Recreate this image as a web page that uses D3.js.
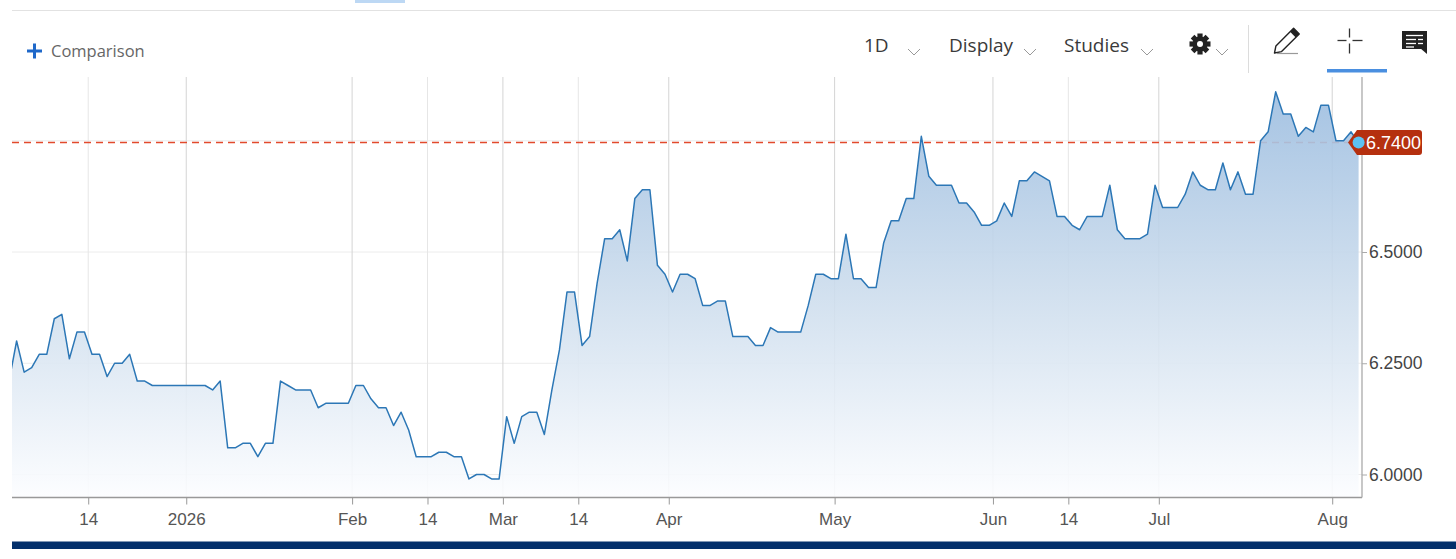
<!DOCTYPE html>
<html><head><meta charset="utf-8">
<script src="https://cdn.jsdelivr.net/npm/d3@7/dist/d3.min.js"></script>
<style>
html,body{margin:0;padding:0;background:#fff;overflow:hidden;}
svg{display:block;}
</style></head><body>
<svg id="chart" width="1456" height="559"></svg>
<script>
// ---- data (one value per weekday, starting Fri 2025-11-28) ----
const startDate = "2025-11-28";
const values = [
  6.21,6.30,6.23,6.24,6.27,6.27,6.35,6.36,6.26,6.32,
  6.32,6.27,6.27,6.22,6.25,6.25,6.27,6.21,6.21,6.20,
  6.20,6.20,6.20,6.20,6.20,6.20,6.20,6.19,6.21,6.06,
  6.06,6.07,6.07,6.04,6.07,6.07,6.21,6.20,6.19,6.19,
  6.19,6.15,6.16,6.16,6.16,6.16,6.20,6.20,6.17,6.15,
  6.15,6.11,6.14,6.10,6.04,6.04,6.04,6.05,6.05,6.04,
  6.04,5.99,6.00,6.00,5.99,5.99,6.13,6.07,6.13,6.14,
  6.14,6.09,6.19,6.28,6.41,6.41,6.29,6.31,6.43,6.53,
  6.53,6.55,6.48,6.62,6.64,6.64,6.47,6.45,6.41,6.45,
  6.45,6.44,6.38,6.38,6.39,6.39,6.31,6.31,6.31,6.29,
  6.29,6.33,6.32,6.32,6.32,6.32,6.38,6.45,6.45,6.44,
  6.44,6.54,6.44,6.44,6.42,6.42,6.52,6.57,6.57,6.62,
  6.62,6.76,6.67,6.65,6.65,6.65,6.61,6.61,6.59,6.56,
  6.56,6.57,6.61,6.58,6.66,6.66,6.68,6.67,6.66,6.58,
  6.58,6.56,6.55,6.58,6.58,6.58,6.65,6.55,6.53,6.53,
  6.53,6.54,6.65,6.60,6.60,6.60,6.63,6.68,6.65,6.64,
  6.64,6.70,6.64,6.68,6.63,6.63,6.75,6.77,6.86,6.81,
  6.81,6.76,6.78,6.77,6.83,6.83,6.75,6.75,6.77,6.745
];
const tickDates  = ["2025-12-14","2026-01-01","2026-02-01","2026-02-14","2026-03-01","2026-03-14","2026-04-01","2026-05-01","2026-06-01","2026-06-14","2026-07-01","2026-08-01"];
const tickLabels = ["14","2026","Feb","14","Mar","14","Apr","May","Jun","14","Jul","Aug"];
const yTickValues = [6.0, 6.25, 6.5];
const yGridValues = [6.0, 6.25, 6.5, 6.75];
const lastPriceLabel = "6.7400";
const toolbarLabels = ["1D","Display","Studies"];
const comparisonLabel = "Comparison";

// ---- dates (weekdays) ----
const parse = d3.timeParse("%Y-%m-%d");
const dates = [];
{
  let d = parse(startDate);
  while (dates.length < values.length) {
    const wd = d.getDay();
    if (wd !== 0 && wd !== 6) dates.push(d);
    d = d3.timeDay.offset(d, 1);
  }
}
const tickPos = tickDates.map(s => {
  const t = parse(s);
  const idx = dates.findIndex(d => d >= t);
  return idx - 0.5;
});

// ---- layout ----
const W = 1456, H = 559;
const plotL = 12, plotR = 1362, plotT = 77, plotB = 497.5;

const svg = d3.select("#chart");
const x = d3.scaleLinear().domain([0, values.length - 1]).range([9.07, 1358.6]);
const y = d3.scaleLinear().domain([6.0, 6.5]).range([474.5, 252]);

// gradient + clip
const defs = svg.append("defs");
const grad = defs.append("linearGradient").attr("id","areaGrad")
  .attr("gradientUnits","userSpaceOnUse").attr("x1",0).attr("x2",0).attr("y1",90).attr("y2",plotB);
grad.append("stop").attr("offset","0").attr("stop-color","#9cbde0");
grad.append("stop").attr("offset","0.5").attr("stop-color","#cddded");
grad.append("stop").attr("offset","1").attr("stop-color","#fcfdff");
defs.append("clipPath").attr("id","plotClip").append("rect")
  .attr("x",plotL).attr("y",plotT).attr("width",plotR-plotL).attr("height",plotB-plotT);

// ---- header ----
svg.append("line").attr("x1",12).attr("x2",W).attr("y1",10.5).attr("y2",10.5)
  .attr("stroke","#e2e2e2").attr("stroke-width",1);
svg.append("rect").attr("x",355).attr("y",0).attr("width",50).attr("height",3).attr("fill","#bdd8f4");

// + Comparison
svg.append("rect").attr("x",27).attr("y",49.5).attr("width",15).attr("height",3).attr("fill","#1f68c9");
svg.append("rect").attr("x",33).attr("y",43.5).attr("width",3).attr("height",15).attr("fill","#1f68c9");
svg.append("text").attr("x",51).attr("y",57).text(comparisonLabel)
  .attr("font-family","'Open Sans', sans-serif").attr("font-size",16.5).attr("fill","#666");

// toolbar texts
const tbX = [864, 949, 1064];
toolbarLabels.forEach((t,i) => {
  svg.append("text").attr("x",tbX[i]).attr("y",52).text(t)
    .attr("font-family","'Open Sans', sans-serif").attr("font-size",19).attr("fill","#3a3a3a");
});
// chevrons
[908, 1024, 1141, 1216].forEach(cx => {
  svg.append("path").attr("d",`M${cx},49 L${cx+6},55 L${cx+12},49`)
    .attr("fill","none").attr("stroke","#999").attr("stroke-width",1);
});
// gear
{
  const g = svg.append("g").attr("transform","translate(1200,44)");
  for (let k = 0; k < 8; k++) {
    g.append("rect").attr("x",-2.6).attr("y",-10.5).attr("width",5.2).attr("height",6)
      .attr("fill","#222").attr("transform",`rotate(${k*45})`);
  }
  g.append("circle").attr("r",7.5).attr("fill","#222");
  g.append("circle").attr("r",3).attr("fill","#fff");
}
// separator
svg.append("line").attr("x1",1248.5).attr("x2",1248.5).attr("y1",25).attr("y2",73)
  .attr("stroke","#dcdcdc").attr("stroke-width",1);
// pencil
{
  const g = svg.append("g").attr("transform","translate(1274.5,53) rotate(-45)");
  g.append("path").attr("d","M0,0 L6,-4 L31,-4 L31,4 L6,4 Z")
    .attr("fill","#fff").attr("stroke","#222").attr("stroke-width",1.4).attr("stroke-linejoin","round");
  g.append("rect").attr("x",26).attr("y",-4).attr("width",5).attr("height",8).attr("fill","#222");
  svg.append("line").attr("x1",1277).attr("x2",1298).attr("y1",53.5).attr("y2",53.5)
    .attr("stroke","#999").attr("stroke-width",1.2);
}
// crosshair
{
  const cx = 1349.5, cy = 40.5;
  const segs = [[cx-12,cy,cx-3,cy],[cx+3,cy,cx+13,cy],[cx,cy-12,cx,cy-3],[cx,cy+3,cx,cy+13]];
  segs.forEach(s => svg.append("line").attr("x1",s[0]).attr("y1",s[1]).attr("x2",s[2]).attr("y2",s[3])
    .attr("stroke","#333").attr("stroke-width",1.3));
  svg.append("rect").attr("x",1327).attr("y",69).attr("width",60).attr("height",3.5).attr("fill","#4a8fe0");
}
// comment icon
{
  svg.append("rect").attr("x",1402).attr("y",31).attr("width",25).attr("height",18).attr("fill","#222");
  svg.append("path").attr("d","M1420,48 L1427,48 L1427,54 Z").attr("fill","#222");
  const rows = [[35.5,1406,1423],[39.5,1406,1416],[39.5,1418,1423],[43.5,1406,1416],[43.5,1418,1423],[47,1406,1414]];
  rows.forEach(r => svg.append("line").attr("x1",r[1]).attr("x2",r[2]).attr("y1",r[0]).attr("y2",r[0])
    .attr("stroke","#fff").attr("stroke-width",1.3));
}

// ---- grid ----
const grid = svg.append("g");
yGridValues.forEach(v => {
  grid.append("line").attr("x1",plotL).attr("x2",plotR).attr("y1",y(v)).attr("y2",y(v))
    .attr("stroke","#ececec").attr("stroke-width",1);
});
tickPos.forEach((p,i) => {
  const minor = tickLabels[i] === "14";
  grid.append("line").attr("x1",x(p)).attr("x2",x(p)).attr("y1",plotT).attr("y2",plotB)
    .attr("stroke", minor ? "#e6e6e6" : "#d4d4d4").attr("stroke-width",1);
});

// ---- series ----
const plot = svg.append("g").attr("clip-path","url(#plotClip)");
const lastIdx = values.length - 1;
const lastY = y(values[lastIdx]);
const dashY = Math.round(lastY - 1) + 0.5;
plot.append("line").attr("x1",plotL).attr("x2",x(lastIdx)).attr("y1",dashY).attr("y2",dashY)
  .attr("stroke","#e24a2c").attr("stroke-width",1.3).attr("stroke-dasharray","7,5");

const area = d3.area().x((d,i)=>x(i)).y0(plotB).y1(d=>y(d));
const line = d3.line().x((d,i)=>x(i)).y(d=>y(d));
plot.append("path").datum(values).attr("d",area).attr("fill","url(#areaGrad)").attr("fill-opacity",0.9);
plot.append("path").datum(values).attr("d",line).attr("fill","none")
  .attr("stroke","#2c77b6").attr("stroke-width",1.5).attr("stroke-linejoin","round");

// ---- axes ----
const xAxis = d3.axisBottom(x).tickValues(tickPos).tickFormat((d,i)=>tickLabels[i])
  .tickSize(7).tickSizeOuter(0).tickPadding(8);
const gx = svg.append("g").attr("transform",`translate(0,${plotB})`).call(xAxis);
gx.select(".domain").remove();
gx.selectAll(".tick line").attr("stroke","#999");
gx.selectAll(".tick text").attr("font-family","'Liberation Sans', Arial, sans-serif")
  .attr("font-size",17).attr("fill","#555");

const yAxis = d3.axisRight(y).tickValues(yTickValues).tickFormat(d3.format(".4f"))
  .tickSize(5).tickPadding(2);
const gy = svg.append("g").attr("transform",`translate(${plotR},0)`).call(yAxis);
gy.select(".domain").remove();
gy.selectAll(".tick line").attr("stroke","#aaa");
gy.selectAll(".tick text").attr("font-family","'Liberation Sans', Arial, sans-serif")
  .attr("font-size",17.5).attr("fill","#444");

svg.append("line").attr("x1",plotL).attr("x2",plotR).attr("y1",plotB).attr("y2",plotB)
  .attr("stroke","#999").attr("stroke-width",1.3);
svg.append("line").attr("x1",plotR).attr("x2",plotR).attr("y1",plotT).attr("y2",plotB)
  .attr("stroke","#aaa").attr("stroke-width",1.3);

// ---- last price tag ----
{
  const tx = 1348, ty = dashY;
  svg.append("path").attr("d",`M${tx},${ty} L${tx+9},${ty-12.5} L${tx+71},${ty-12.5} Q${tx+74},${ty-12.5} ${tx+74},${ty-9.5} L${tx+74},${ty+9.5} Q${tx+74},${ty+12.5} ${tx+71},${ty+12.5} L${tx+9},${ty+12.5} Z`)
    .attr("fill","#b5300f");
  svg.append("text").attr("x",tx+18).attr("y",ty+6.5).text(lastPriceLabel)
    .attr("font-family","'Liberation Sans', Arial, sans-serif").attr("font-size",18)
    .attr("fill","#fff");
  svg.append("circle").attr("cx",x(lastIdx)).attr("cy",dashY).attr("r",6).attr("fill","#5cc2f2");
}

// ---- bottom bar ----
svg.append("rect").attr("x",12).attr("y",541.5).attr("width",W-12).attr("height",7.5).attr("fill","#04306b");
</script>
</body></html>
